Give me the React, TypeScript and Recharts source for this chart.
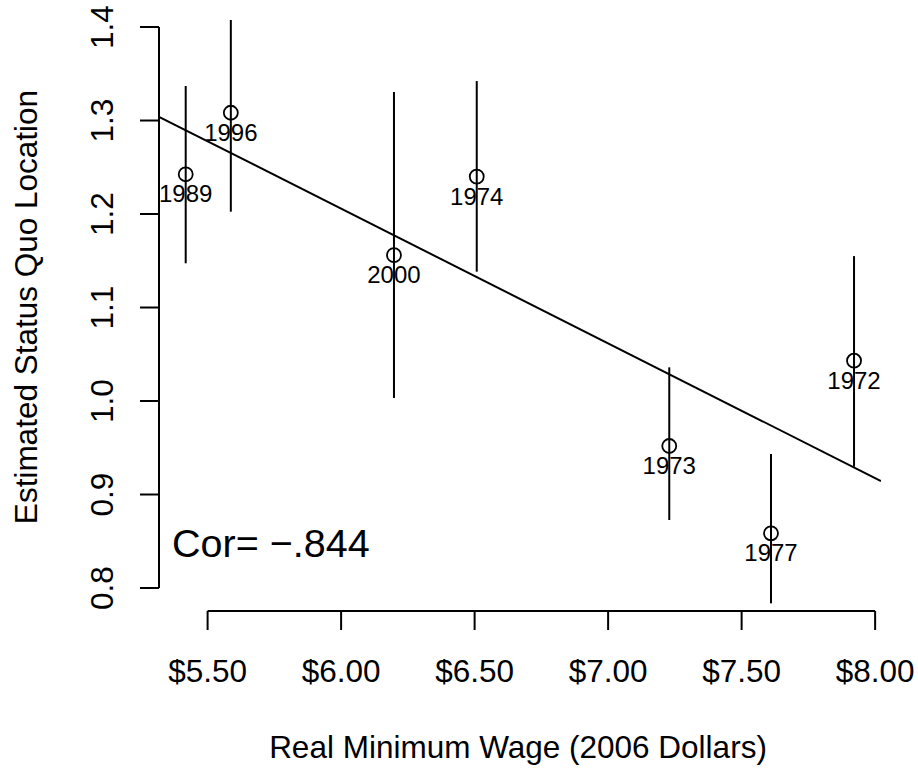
import {
  ComposedChart,
  Scatter,
  ErrorBar,
  XAxis,
  YAxis,
  ReferenceLine,
} from 'recharts'

const years = ['1989', '1996', '2000', '1974', '1973', '1977', '1972']
const wage = [5.418, 5.587, 6.198, 6.508, 7.229, 7.61, 7.921]
const location = [1.2425, 1.3083, 1.156, 1.24, 0.9519, 0.8585, 1.0431]
const lower = [1.1473, 1.2025, 1.0032, 1.1383, 0.8727, 0.7836, 0.9297]
const upper = [1.3369, 1.4075, 1.3305, 1.3422, 1.036, 0.9433, 1.155]

const fitX = [5.318, 8.022]
const fitY = [1.304, 0.9144]

const xTicks = [5.5, 6.0, 6.5, 7.0, 7.5, 8.0]
const yTicks = [0.8, 0.9, 1.0, 1.1, 1.2, 1.3, 1.4]

const X_DOMAIN: [number, number] = [5.318, 8.022]
const Y_DOMAIN: [number, number] = [0.7754, 1.4289]

const FONT = '"Liberation Sans", Arial, Helvetica, sans-serif'
const BASE = 31.5
const LW = 2

const points = years.map((year, i) => ({
  year,
  x: wage[i],
  y: location[i],
  err: [location[i] - lower[i], upper[i] - location[i]],
}))

const fit = fitX.map((x, i) => ({ x, y: fitY[i] }))

const PointShape = (props: any) => {
  const { cx, cy, payload } = props
  return (
    <g>
      <circle cx={cx} cy={cy} r={7} fill="none" stroke="#000" strokeWidth={1.8} />
      <text
        x={cx}
        y={cy + 28}
        textAnchor="middle"
        fontSize={24}
        fontFamily={FONT}
        fill="#000"
      >
        {payload.year}
      </text>
    </g>
  )
}

const YTick = ({ x, y, payload }: any) => {
  const bx = x - 27
  return (
    <text
      x={bx}
      y={y}
      transform={`rotate(-90, ${bx}, ${y})`}
      textAnchor="middle"
      fontSize={BASE}
      fontFamily={FONT}
      fill="#000"
    >
      {payload.value.toFixed(1)}
    </text>
  )
}

export default function App() {
  return (
    <div style={{ position: 'absolute', left: 0, top: 0, width: 918, height: 770, background: '#fff' }}>
      <ComposedChart
        width={918}
        height={770}
        margin={{ top: 0, right: 37, bottom: 99, left: 59 }}
      >
        <XAxis
          type="number"
          dataKey="x"
          domain={X_DOMAIN}
          allowDataOverflow
          ticks={xTicks}
          tickFormatter={(v: number) => `$${v.toFixed(2)}`}
          axisLine={false}
          tickLine={{ stroke: '#000', strokeWidth: LW }}
          tickSize={19}
          tickMargin={30}
          height={60}
          tick={{ fontSize: BASE, fill: '#000', fontFamily: FONT }}
        />
        <YAxis
          type="number"
          dataKey="y"
          domain={Y_DOMAIN}
          allowDataOverflow
          ticks={yTicks}
          axisLine={false}
          tickLine={{ stroke: '#000', strokeWidth: LW }}
          tickSize={19}
          tickMargin={0}
          width={100}
          tick={<YTick />}
        />
        <ReferenceLine
          segment={[{ x: 5.5, y: Y_DOMAIN[0] }, { x: 8.0, y: Y_DOMAIN[0] }]}
          stroke="#000"
          strokeWidth={LW}
          ifOverflow="visible"
        />
        <ReferenceLine
          segment={[{ x: X_DOMAIN[0], y: 0.8 }, { x: X_DOMAIN[0], y: 1.4 }]}
          stroke="#000"
          strokeWidth={LW}
          ifOverflow="visible"
        />
        <Scatter
          data={fit}
          line={{ stroke: '#000', strokeWidth: LW }}
          shape={() => <g />}
          isAnimationActive={false}
        />
        <Scatter data={points} shape={<PointShape />} isAnimationActive={false}>
          <ErrorBar
            dataKey="err"
            direction="y"
            width={0}
            stroke="#000"
            strokeWidth={LW}
            isAnimationActive={false}
          />
        </Scatter>
      </ComposedChart>
      <svg
        width={918}
        height={770}
        style={{ position: 'absolute', left: 0, top: 0, pointerEvents: 'none' }}
      >
        <text x={518} y={758} textAnchor="middle" fontSize={BASE} fontFamily={FONT} fill="#000">
          Real Minimum Wage (2006 Dollars)
        </text>
        <text
          x={37}
          y={307}
          transform="rotate(-90, 37, 307)"
          textAnchor="middle"
          fontSize={BASE}
          fontFamily={FONT}
          fill="#000"
        >
          Estimated Status Quo Location
        </text>
        <text x={172} y={557} fontSize={39.5} fontFamily={FONT} fill="#000">
          Cor= −.844
        </text>
      </svg>
    </div>
  )
}
